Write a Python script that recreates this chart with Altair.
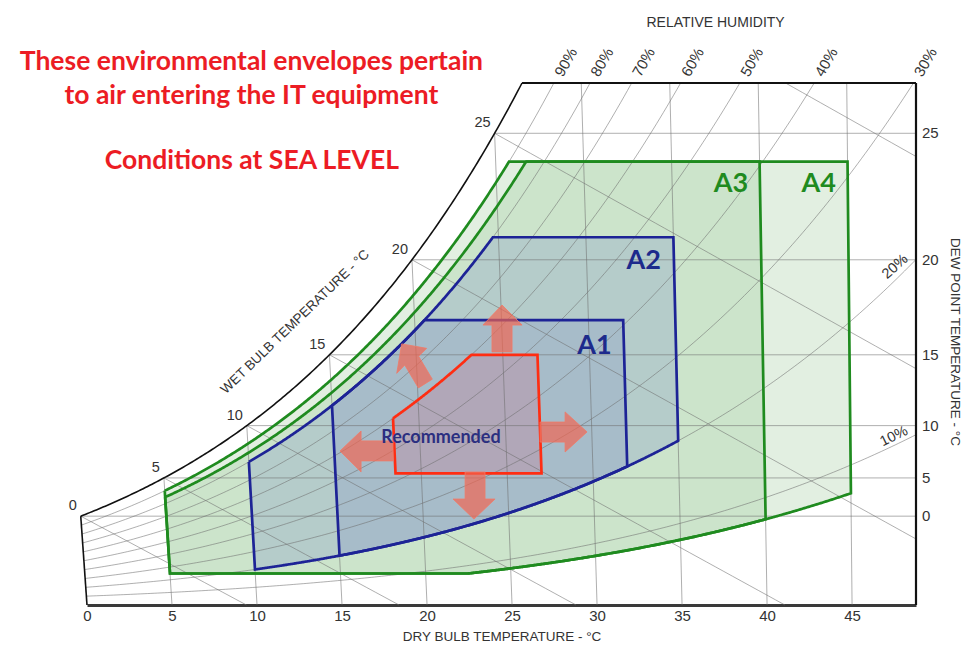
import numpy as np
import pandas as pd
import altair as alt

# ---------------- chart frame and grid values ----------------
X_TICKS = [0, 5, 10, 15, 20, 25, 30, 35, 40, 45]
DRY_BULB = [5, 10, 15, 20, 25, 30, 35, 40, 45]
DEW_POINT = [0, 5, 10, 15, 20, 25]
WET_BULB = [0, 5, 10, 15, 20, 25, 30]
WB_LABELS = [0, 5, 10, 15, 20, 25]
RH_LINES = [10, 20, 30, 40, 50, 60, 70, 80, 90]
RH_TOP_LABELS = [30, 40, 50, 60, 70, 80, 90]
RH_SIDE_LABELS = [10, 20]
RH_SIDE_ANGLES = [334, 319]
X_MAX = 48.76   # dry-bulb value at the right border (deg C)
W_MAX = 22.17   # humidity ratio at the top border (g/kg)

# ---------------- ASHRAE envelopes ----------------
ENV_NAME = ["A4", "A3", "A2", "A1", "Recommended"]
ENV_T_LOW = [5, 5, 10, 15, 18.5]
ENV_T_HIGH = [45, 40, 35, 32, 27]
ENV_RH_HIGH = [90, 85, 80, 80, 60]
ENV_DP_HIGH = [24, 24, 21, 17, 15]
ENV_RH_LOW = [8, 8, 20, 20, 0]
ENV_DP_LOW = [-12, -12, np.nan, np.nan, 5.5]
ENV_FILL = ["#e2efe1", "#cce4cb", "#b5ccca", "#a7bcc9", "#b1a7b8"]
ENV_STROKE = ["#1f8b1f", "#1f8b1f", "#1d2396", "#1d2396", "#ff2d12"]

# ---------------- arrows around the recommended envelope (deg C, g/kg) ----------------
ARROWS_X = [
    [24.41, 25.59, 25.00, 25.00, 23.82, 23.82, 23.29],
    [29.41, 28.12, 28.12, 26.65, 26.65, 28.12, 28.12],
    [14.88, 16.12, 16.12, 18.00, 18.00, 16.12, 16.12],
    [22.76, 24.00, 23.41, 23.41, 22.24, 22.24, 21.53],
    [18.51, 18.22, 18.69, 19.49, 20.31, 19.51, 19.98],
]
ARROWS_Y = [
    [12.74, 11.89, 11.89, 10.75, 10.75, 11.89, 11.89],
    [7.35, 6.50, 6.92, 6.92, 7.77, 7.77, 8.20],
    [6.54, 7.39, 6.97, 6.97, 6.12, 6.12, 5.65],
    [3.65, 4.50, 4.50, 5.65, 5.65, 4.50, 4.50],
    [11.09, 9.84, 10.19, 9.22, 9.59, 10.56, 10.90],
]

# ---------------- texts ----------------
TITLE_LINES = ["These environmental envelopes pertain", "to air entering the IT equipment",
               "Conditions at SEA LEVEL"]
TITLE_X = [9.67, 9.67, 9.70]
TITLE_Y = [23.06, 21.62, 18.86]
ENV_LABEL = ["A4", "A3", "A2", "A1"]
ENV_LABEL_X = [43.03, 37.88, 32.74, 29.85]
ENV_LABEL_Y = [17.88, 17.88, 14.59, 11.00]
ENV_LABEL_COLOR = ["#1f8b1f", "#1f8b1f", "#1d2a8c", "#1d2a8c"]
REC_LABEL = ["Recommended"]
REC_X = [20.82]
REC_Y = [7.11]

# ---------------- psychrometrics ----------------
P = 101.325


def psat(t):
    t = np.asarray(t, dtype=float)
    water = 0.61094 * np.exp(17.625 * t / (t + 243.04))
    ice = 0.61115 * np.exp(22.452 * t / (272.55 + t))
    return np.where(t >= 0, water, ice)


def w_rh(t, rh):
    pv = rh / 100.0 * psat(t)
    return 622.0 * pv / (P - pv)


def w_dp(td):
    return w_rh(td, 100.0)


def w_wb(t, twb):
    ws = w_dp(twb) / 1000.0
    return 1000.0 * ((2501 - 2.326 * twb) * ws - 1.006 * (t - twb)) / (2501 + 1.86 * t - 4.186 * twb)


def chart_x(t, w):
    # dry-bulb lines of the chart lean slightly
    return np.asarray(t) + np.asarray(w) / 1000.0 * (1.849 * np.asarray(t) - 97.4)


def solve(f, lo, hi):
    for _ in range(80):
        mid = 0.5 * (lo + hi)
        if f(lo) * f(mid) <= 0:
            hi = mid
        else:
            lo = mid
    return 0.5 * (lo + hi)


T_TOP = solve(lambda t: float(w_dp(t)) - W_MAX, 0.0, 40.0)


def clip_seg(x0, y0, x1, y1, xmin=-10.0, xmax=X_MAX, ymin=0.0, ymax=W_MAX):
    dx, dy = x1 - x0, y1 - y0
    t0, t1 = 0.0, 1.0
    for p, q in ((-dx, x0 - xmin), (dx, xmax - x0), (-dy, y0 - ymin), (dy, ymax - y0)):
        if p == 0:
            if q < 0:
                return None
        else:
            r = q / p
            if p < 0:
                if r > t1:
                    return None
                t0 = max(t0, r)
            else:
                if r < t0:
                    return None
                t1 = min(t1, r)
    return (x0 + t0 * dx, y0 + t0 * dy), (x0 + t1 * dx, y0 + t1 * dy)


def clip_line(xs, ys):
    out = []
    for i in range(len(xs) - 1):
        seg = clip_seg(xs[i], ys[i], xs[i + 1], ys[i + 1])
        if seg is None:
            continue
        (a, b), (c, d) = seg
        if not out or abs(out[-1][0] - a) > 1e-9 or abs(out[-1][1] - b) > 1e-9:
            out.append((a, b))
        out.append((c, d))
    return [p[0] for p in out], [p[1] for p in out]


grid_rows = []


def add(rows, key, xs, ys, **extra):
    for i, (a, b) in enumerate(zip(xs, ys)):
        r = {"id": key, "i": i, "x": float(a), "y": float(b)}
        r.update(extra)
        rows.append(r)


for t in DRY_BULB:
    we = min(float(w_dp(t)), W_MAX)
    add(grid_rows, f"db{t}", [chart_x(t, 0), chart_x(t, we)], [0, we])
for d in DEW_POINT:
    w = float(w_dp(d))
    add(grid_rows, f"dp{d}", [chart_x(d, w), X_MAX], [w, w])
rh_ends = {}
for rh in RH_LINES:
    ts = np.arange(0, 70, 0.2)
    ws = w_rh(ts, rh)
    xs, ys = clip_line(list(chart_x(ts, ws)), list(ws))
    rh_ends[rh] = (xs[-1], ys[-1])
    add(grid_rows, f"rh{rh}", xs, ys)
for twb in WET_BULB:
    ts = np.arange(twb, twb + 90, 0.5)
    ws = w_wb(ts, twb)
    xs, ys = clip_line(list(chart_x(ts, ws)), list(ws))
    if xs:
        add(grid_rows, f"wb{twb}", xs, ys)
grid_df = pd.DataFrame(grid_rows)

# frame lines
frame_rows = []
ts = np.linspace(0, T_TOP, 200)
ws = w_dp(ts)
add(frame_rows, "sat", chart_x(ts, ws), ws, sw=1.6)
w0 = float(w_dp(0))
add(frame_rows, "left", [chart_x(0, 0), chart_x(0, w0)], [0, w0], sw=1.6)
add(frame_rows, "top", [chart_x(T_TOP, W_MAX), X_MAX], [W_MAX, W_MAX], sw=2.2)
add(frame_rows, "right", [X_MAX, X_MAX], [0, W_MAX], sw=2.2)
frame_df = pd.DataFrame(frame_rows)


def envelope(tl, th, rhh, dph, rhl, dpl):
    ts = np.linspace(tl, th, 500)
    up = np.minimum(w_rh(ts, rhh), w_dp(dph))
    lo = w_rh(ts, rhl) if rhl > 0 else np.zeros_like(ts)
    if not np.isnan(dpl):
        lo = np.maximum(lo, w_dp(dpl))
    T = np.concatenate([ts, ts[::-1], ts[:1]])
    W = np.concatenate([up, lo[::-1], up[:1]])
    return chart_x(T, W), W


env_frames = []
for k, name in enumerate(ENV_NAME):
    ex, ey = envelope(ENV_T_LOW[k], ENV_T_HIGH[k], ENV_RH_HIGH[k], ENV_DP_HIGH[k],
                      ENV_RH_LOW[k], ENV_DP_LOW[k])
    rows = []
    add(rows, name, ex, ey, stroke=ENV_STROKE[k])
    env_frames.append(pd.DataFrame(rows))
env_all = pd.concat(env_frames, ignore_index=True)

arrow_rows = []
for k in range(len(ARROWS_X)):
    add(arrow_rows, f"arrow{k}", ARROWS_X[k] + ARROWS_X[k][:1], ARROWS_Y[k] + ARROWS_Y[k][:1])
arrow_df = pd.DataFrame(arrow_rows)

# ---------------- encodings ----------------
XS = alt.Scale(domain=[0, X_MAX], nice=False, zero=False)
YS = alt.Scale(domain=[0, W_MAX], nice=False, zero=False)
AX = alt.Axis(values=X_TICKS, title="DRY BULB TEMPERATURE - °C", grid=False, ticks=False,
              labelFontSize=15, labelFont="Liberation Sans", labelColor="#333333",
              labelPadding=3, labelFlush=False, labelOverlap=False, format="d",
              titleFont="Liberation Sans", titleFontSize=13.5, titleFontWeight="normal",
              titleColor="#333333", titlePadding=6, domainColor="#3a3a3a", domainWidth=3)
FONT = "Liberation Sans"


def xe():
    return alt.X("x:Q", scale=XS, axis=AX)


def ye():
    return alt.Y("y:Q", scale=YS, axis=None)


layers = []
for k, name in enumerate(ENV_NAME):
    layers.append(alt.Chart(env_frames[k]).mark_line(fill=ENV_FILL[k], stroke=ENV_FILL[k], strokeWidth=0.5)
                  .encode(x=xe(), y=ye(), order=alt.Order("i:Q")))

layers.append(alt.Chart(grid_df).mark_line(color="#6e6e6e", strokeWidth=1, opacity=0.55)
              .encode(x=xe(), y=ye(), detail="id:N", order=alt.Order("i:Q")))

layers.append(alt.Chart(frame_df).mark_line(color="#111111")
              .encode(x=xe(), y=ye(), detail="id:N", order=alt.Order("i:Q"),
                      strokeWidth=alt.StrokeWidth("sw:Q", scale=None)))

layers.append(alt.Chart(env_all).mark_line(strokeWidth=2.7, strokeJoin="miter")
              .encode(x=xe(), y=ye(), detail="id:N", order=alt.Order("i:Q"),
                      color=alt.Color("stroke:N", scale=None)))

layers.append(alt.Chart(arrow_df).mark_line(fill="#f16450", fillOpacity=0.68, stroke="#f07a68",
                                            strokeWidth=1, strokeOpacity=0.8)
              .encode(x=xe(), y=ye(), detail="id:N", order=alt.Order("i:Q")))

# wet-bulb labels along the saturation curve
wb_df = pd.DataFrame({"x": [float(chart_x(t, w_dp(t))) for t in WB_LABELS],
                      "y": [float(w_dp(t)) for t in WB_LABELS],
                      "t": [str(t) for t in WB_LABELS]})
layers.append(alt.Chart(wb_df).mark_text(align="right", baseline="middle", dx=-4, dy=-10,
                                         fontSize=14.5, font=FONT, color="#333333")
              .encode(x=xe(), y=ye(), text="t:N"))

# dew-point labels on the right
dp_df = pd.DataFrame({"x": [X_MAX] * len(DEW_POINT), "y": [float(w_dp(d)) for d in DEW_POINT],
                      "t": [str(d) for d in DEW_POINT]})
layers.append(alt.Chart(dp_df).mark_text(align="left", baseline="middle", dx=6,
                                         fontSize=15, font=FONT, color="#333333")
              .encode(x=xe(), y=ye(), text="t:N"))

# RH labels at the top
rt_df = pd.DataFrame({"x": [rh_ends[r][0] for r in RH_TOP_LABELS], "y": [W_MAX] * len(RH_TOP_LABELS),
                      "t": [f"{r}%" for r in RH_TOP_LABELS]})
layers.append(alt.Chart(rt_df).mark_text(align="left", baseline="middle", dx=9, angle=300,
                                         fontSize=15, font=FONT, color="#333333")
              .encode(x=xe(), y=ye(), text="t:N"))

# RH labels at the right border
rs_df = pd.DataFrame({"x": [rh_ends[r][0] for r in RH_SIDE_LABELS],
                      "y": [rh_ends[r][1] for r in RH_SIDE_LABELS],
                      "t": [f"{r}%" for r in RH_SIDE_LABELS], "a": RH_SIDE_ANGLES})
layers.append(alt.Chart(rs_df).mark_text(align="right", baseline="bottom", dx=-6, dy=-1,
                                         fontSize=14.5, font=FONT, color="#333333")
              .encode(x=xe(), y=ye(), text="t:N", angle=alt.Angle("a:Q", scale=None)))

# axis titles drawn as text
at_df = pd.DataFrame({"x": [36.97, 51.06, 12.24], "y": [24.72, 11.17, 12.02],
                      "t": ["RELATIVE HUMIDITY", "DEW POINT TEMPERATURE - °C", "WET BULB TEMPERATURE - °C"],
                      "a": [0, 90, 316], "s": [14, 13.5, 13.5]})
layers.append(alt.Chart(at_df).mark_text(align="center", baseline="middle", font=FONT, color="#333333")
              .encode(x=xe(), y=ye(), text="t:N", angle=alt.Angle("a:Q", scale=None),
                      size=alt.Size("s:Q", scale=None)))

# red headline
tl_df = pd.DataFrame({"x": TITLE_X, "y": TITLE_Y, "t": TITLE_LINES})
layers.append(alt.Chart(tl_df).mark_text(align="center", baseline="middle", font="Lato", fontWeight="bold",
                                         fontSize=26.5, color="#ec1c24")
              .encode(x=xe(), y=ye(), text="t:N"))

# envelope labels
el_df = pd.DataFrame({"x": ENV_LABEL_X, "y": ENV_LABEL_Y, "t": ENV_LABEL, "c": ENV_LABEL_COLOR})
layers.append(alt.Chart(el_df).mark_text(align="center", baseline="middle", font="Lato", fontWeight="bold",
                                         fontSize=27)
              .encode(x=xe(), y=ye(), text="t:N", color=alt.Color("c:N", scale=None)))
rl_df = pd.DataFrame({"x": REC_X, "y": REC_Y, "t": REC_LABEL})
layers.append(alt.Chart(rl_df).mark_text(align="center", baseline="middle", font="Lato", fontWeight="bold",
                                         fontSize=18, color="#2b2f80")
              .encode(x=xe(), y=ye(), text="t:N"))

chart = alt.layer(*layers).properties(
    width=829, height=522,
    padding={"left": 79, "top": 75, "right": 46, "bottom": 37},
    autosize=alt.AutoSizeParams(type="none"),
    background="white",
).configure_view(stroke=None)

chart.save("out.html", embed_options={"renderer": "svg", "actions": False})
